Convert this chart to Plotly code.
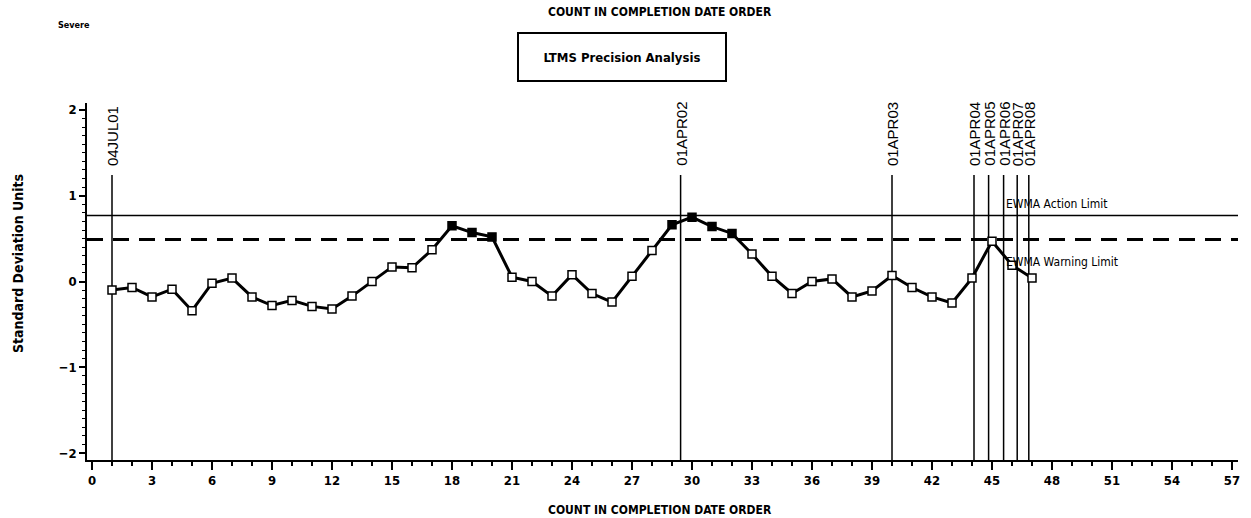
import plotly.graph_objects as go

# ---------------- data ----------------
count = list(range(1, 48))
ewma = [-0.10, -0.07, -0.18, -0.09, -0.34, -0.02, 0.04, -0.18, -0.28, -0.22,
        -0.29, -0.32, -0.17, 0.00, 0.17, 0.16, 0.37, 0.65, 0.57, 0.52,
        0.05, 0.00, -0.17, 0.08, -0.14, -0.24, 0.06, 0.36, 0.66, 0.75,
        0.64, 0.56, 0.32, 0.06, -0.14, 0.00, 0.03, -0.18, -0.11, 0.07,
        -0.07, -0.18, -0.25, 0.04, 0.47, 0.19, 0.04]

date_labels = ["04JUL01", "01APR02", "01APR03", "01APR04",
               "01APR05", "01APR06", "01APR07", "01APR08"]
date_pos = [1.0, 29.43, 40.0, 44.1, 44.83, 45.58, 46.26, 46.84]

action_limit = 0.77
warning_limit = 0.49
date_line_top = 1.24

x_ticks = list(range(0, 58, 3))
y_ticks = [-2, -1, 0, 1, 2]

# ---------------- styling ----------------
NARROW = "Liberation Sans Narrow, Arial Narrow, DejaVu Sans Condensed, sans-serif"
ARIAL = "Liberation Sans, Arial, sans-serif"
X_RANGE = [-0.25, 57.3]
Y_RANGE = [-2.08, 2.08]

fig = go.Figure()

# open markers below warning limit, filled above
fills = ["black" if v > warning_limit else "white" for v in ewma]

fig.add_trace(go.Scatter(
    x=count, y=ewma, mode="lines+markers",
    line=dict(color="black", width=3),
    marker=dict(symbol="square", size=8, color=fills,
                line=dict(color="black", width=1.5)),
    showlegend=False, hoverinfo="x+y",
))

shapes = []
shapes.append(dict(type="line", xref="paper", yref="y", x0=0, x1=1,
                   y0=action_limit, y1=action_limit,
                   line=dict(color="black", width=1.5), layer="below"))
shapes.append(dict(type="line", xref="paper", yref="y", x0=0, x1=1,
                   y0=warning_limit, y1=warning_limit,
                   line=dict(color="black", width=3, dash="16px,10px"), layer="below"))
for p in date_pos:
    shapes.append(dict(type="line", xref="x", yref="y", x0=p, x1=p,
                       y0=Y_RANGE[0], y1=date_line_top,
                       line=dict(color="black", width=1.5), layer="below"))

annotations = []
for lab, p in zip(date_labels, date_pos):
    annotations.append(dict(x=p, y=date_line_top, xref="x", yref="y",
                            text=lab, textangle=-90, showarrow=False,
                            xanchor="center", yanchor="bottom", yshift=7,
                            font=dict(family=ARIAL, size=15, color="black")))

annotations.append(dict(x=45.6, y=0.906, xref="x", yref="y", text="EWMA Action Limit",
                        showarrow=False, xanchor="left", yanchor="middle",
                        font=dict(family=NARROW, size=12, color="black")))
annotations.append(dict(x=45.6, y=0.23, xref="x", yref="y", text="EWMA Warning Limit",
                        showarrow=False, xanchor="left", yanchor="middle",
                        font=dict(family=NARROW, size=12, color="black")))

annotations.append(dict(x=0.4978, y=1.2549, xref="paper", yref="paper",
                        text="<b>COUNT IN COMPLETION DATE ORDER</b>", showarrow=False,
                        xanchor="center", yanchor="middle",
                        font=dict(family=NARROW, size=12, color="black")))
annotations.append(dict(x=0.4978, y=-0.14, xref="paper", yref="paper",
                        text="<b>COUNT IN COMPLETION DATE ORDER</b>", showarrow=False,
                        xanchor="center", yanchor="middle",
                        font=dict(family=NARROW, size=12, color="black")))
annotations.append(dict(x=-0.0113, y=1.2185, xref="paper", yref="paper",
                        text="<b>Severe</b>", showarrow=False,
                        xanchor="center", yanchor="middle",
                        font=dict(family=NARROW, size=9, color="black")))
annotations.append(dict(x=0.4648, y=1.1283, xref="paper", yref="paper",
                        text="<b>LTMS Precision Analysis</b>", showarrow=False,
                        xanchor="center", yanchor="middle",
                        width=206, height=46, borderpad=0,
                        bordercolor="black", borderwidth=2, bgcolor="white",
                        font=dict(family=NARROW, size=13, color="black")))
annotations.append(dict(x=-0.0599, y=0.549, xref="paper", yref="paper",
                        text="<b>Standard Deviation Units</b>", textangle=-90,
                        showarrow=False, xanchor="center", yanchor="middle",
                        font=dict(family=NARROW, size=14, color="black")))

fig.update_layout(
    width=1251, height=518,
    margin=dict(l=87, r=13, t=103, b=58),
    plot_bgcolor="white", paper_bgcolor="white",
    shapes=shapes, annotations=annotations,
    showlegend=False,
)

fig.update_xaxes(
    range=X_RANGE, tickmode="array", tickvals=x_ticks,
    ticks="outside", ticklen=8, tickwidth=1.5, tickcolor="black",
    showline=True, linecolor="black", linewidth=1.5,
    showgrid=False, zeroline=False,
    tickfont=dict(family=NARROW, size=13, color="black", weight="bold"),
    minor=dict(dtick=1, tick0=0, ticks="outside", ticklen=4, tickwidth=1.5,
               tickcolor="black", showgrid=False),
)
fig.update_yaxes(
    range=Y_RANGE, tickmode="array", tickvals=y_ticks,
    ticks="outside", ticklen=6, tickwidth=1.5, tickcolor="black",
    showline=True, linecolor="black", linewidth=1.5,
    showgrid=False, zeroline=False,
    tickfont=dict(family=NARROW, size=13, color="black", weight="bold"),
    minor=dict(dtick=0.1, tick0=0, ticks="outside", ticklen=3, tickwidth=1,
               tickcolor="black", showgrid=False),
)

fig.write_html("out.html", config={"displayModeBar": False},
               post_script="document.body.style.margin='0';")
